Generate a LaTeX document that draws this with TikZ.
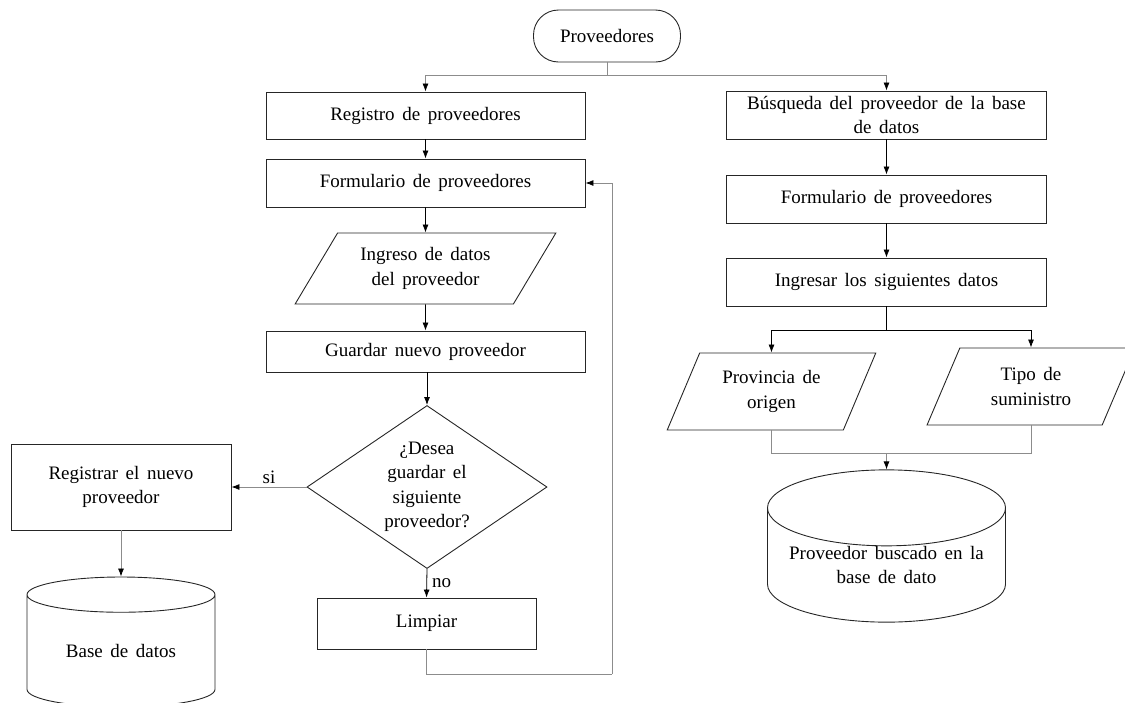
\documentclass[tikz,border=0pt]{standalone}
\usepackage{fontspec}
\setmainfont{Liberation Serif}
\usetikzlibrary{shapes.geometric,arrows.meta}

\newcommand\diagfont{\fontsize{19}{24.5}\selectfont\spaceskip=0.4em plus 0.1em\relax}

\begin{document}
\begin{tikzpicture}[x=1pt,y=-1pt,
    font=\diagfont,
    every node/.style={inner sep=0pt, align=center},
    box/.style={draw=black!85, line width=0.9pt, rectangle},
    term/.style={draw=black!85, line width=0.9pt, rectangle, rounded corners=25pt},
    io/.style={draw=black!85, line width=0.9pt, trapezium, trapezium stretches=true},
    decision/.style={draw=black!85, line width=0.9pt, diamond, aspect=1.47},
    db/.style={draw=black!85, line width=0.9pt, cylinder, shape border rotate=90, anchor=shape center},
    line/.style={draw=black, line width=0.8pt},
    gline/.style={draw=black!45, line width=0.8pt},
    arr/.style={-{Latex[length=8pt,width=6pt,color=black]}}]
  \useasboundingbox (0,0) rectangle (1125,702);

  % left column
  \node[term, minimum width=147pt, minimum height=52pt] (start) at (607,36) {Proveedores};
  \node[box, minimum width=319pt, minimum height=47pt] (reg) at (425.5,115.5) {Registro de proveedores};
  \node[box, minimum width=319pt, minimum height=48pt] (form1) at (425.5,183) {Formulario de proveedores};
  \node[io, trapezium left angle=53, trapezium right angle=127,
        minimum width=261pt, minimum height=71pt] (ingreso) at (425.5,268.5) {Ingreso de datos\\del proveedor};
  \node[box, minimum width=319pt, minimum height=41pt] (guardar) at (425.5,351.5) {Guardar nuevo proveedor};
  \node[decision, minimum width=240pt, minimum height=163pt] (dec) at (427,487) {¿Desea\\guardar el\\siguiente\\proveedor?};
  \node[box, minimum width=220pt, minimum height=86pt] (registrar) at (121,487) {Registrar el nuevo\\proveedor};
  \node[db, aspect=0.32, minimum width=188pt, minimum height=130pt] (bd) at (121,642) {Base de datos};
  \node[box, minimum width=219pt, minimum height=51pt] (limpiar) at (426.5,623.5) {Limpiar};

  % right column
  \node[box, minimum width=320pt, minimum height=48pt] (busq) at (886.5,115) {Búsqueda del proveedor de la base\\de datos};
  \node[box, minimum width=320pt, minimum height=48pt] (form2) at (886.5,199) {Formulario de proveedores};
  \node[box, minimum width=320pt, minimum height=48pt] (ingresar) at (886.5,282) {Ingresar los siguientes datos};
  \node[io, trapezium left angle=62, trapezium right angle=118,
        minimum width=209pt, minimum height=77pt] (prov) at (771.5,391.5) {Provincia de\\origen};
  \node[io, trapezium left angle=64, trapezium right angle=116,
        minimum width=208pt, minimum height=77pt] (tipo) at (1031,386.5) {Tipo de\\suministro};
  \node[db, aspect=0.39, minimum width=238pt, minimum height=138pt] (bdbus) at (886.5,546) {Proveedor buscado en la\\base de dato};

  \coordinate (top) at (607,75);
  \coordinate (back) at (612,674);
  \coordinate (split) at (886.5,330);
  \coordinate (merge) at (886.5,453);

  \draw[gline] (start.south) -- (top);
  \draw[gline,arr] (top) -| (reg.north);
  \draw[gline,arr] (top) -| (busq.north);
  \draw[line,arr] (reg.south) -- (form1.north);
  \draw[line,arr] (form1.south) -- (ingreso);
  \draw[line,arr] (ingreso) -- (guardar.north);
  \draw[line,arr] (guardar.south -| dec.north) -- (dec.north);
  \draw[gline,arr] (dec.west) -- (registrar.east) node[midway,above=3pt] {si};
  \draw[line,arr] (dec.south) -- (limpiar.north) node[midway,right=5pt] {no};
  \draw[gline,arr] (registrar.south) -- (bd.north);
  \draw[gline] (limpiar.south) |- (back);
  \draw[gline,arr] (back) |- (form1.east);

  \draw[line,arr] (busq.south) -- (form2.north);
  \draw[line,arr] (form2.south) -- (ingresar.north);
  \draw[line] (ingresar.south) -- (split);
  \draw[line,arr] (split) -| (prov);
  \draw[line,arr] (split) -| (tipo);
  \draw[gline] (prov) |- (merge);
  \draw[gline] (tipo) |- (merge);
  \draw[gline,arr] (merge) -- (bdbus.north);
\end{tikzpicture}
\end{document}
